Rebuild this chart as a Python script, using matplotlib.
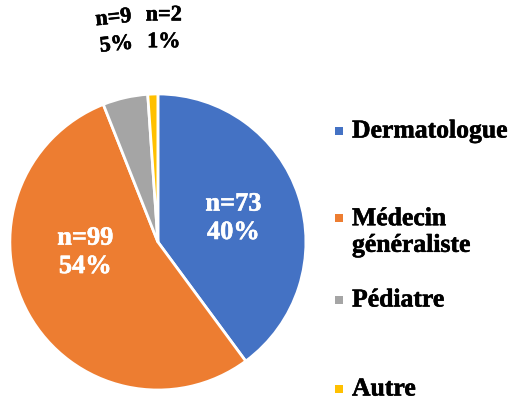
import matplotlib.pyplot as plt
import numpy as np
from matplotlib.patches import Rectangle
from matplotlib import font_manager as fm
import matplotlib.patheffects as pe

# Données
categories = ['Dermatologue', 'Médecin\ngénéraliste', 'Pédiatre', 'Autre']
counts = [73, 99, 9, 2]
colors = ['#4472C4', '#ED7D31', '#A5A5A5', '#FFC000']

# position des étiquettes (x, y en rayon), couleur, rotation, taille
label_pos = [(0.51, 0.16), (-0.49, -0.07), (-0.29, 1.42), (0.04, 1.44)]
label_col = ['white', 'white', 'black', 'black']
label_rot = [0, 0, 6, 0]
label_size = [19, 19, 16, 16]
legend_y = [131, 232, 300, 389]

font_leg = fm.FontProperties(family='Liberation Serif', weight='bold', size=18.5)


def gras(c):
    return [pe.withStroke(linewidth=0.4, foreground=c)]


fig = plt.figure(figsize=(5.16, 4.05), dpi=100)
ax = fig.add_axes([0.019, 0.037, 0.574, 0.731])

wedges, _ = ax.pie(counts, colors=colors, startangle=90, counterclock=False,
                   wedgeprops=dict(edgecolor='white', linewidth=2))
ax.set_xlim(-1, 1)
ax.set_ylim(-1, 1)
ax.set_aspect('equal')

total = sum(counts)
for n, (x, y), c, r, s in zip(counts, label_pos, label_col, label_rot, label_size):
    pct = round(100 * n / total)
    fp = fm.FontProperties(family='Liberation Serif', weight='bold', size=s)
    ax.text(x, y, f'n={n}\n{pct}%', ha='center', va='center', color=c,
            fontproperties=fp, rotation=r, linespacing=1.3 if s > 17 else 1.45,
            clip_on=False, path_effects=gras(c))

# Légende manuelle
H = 405
for cat, col, y in zip(categories, colors, legend_y):
    nl = cat.count('\n')
    ym = y - nl * 14
    fig.add_artist(Rectangle((335 / 516, (H - ym - 4) / H), 8 / 516, 8 / H,
                             transform=fig.transFigure, color=col, lw=0))
    fig.text(352 / 516, (H - y) / H, cat, ha='left', va='center',
             fontproperties=font_leg, linespacing=1.2,
             path_effects=gras('black'))

fig.savefig('out.png', dpi=100)
